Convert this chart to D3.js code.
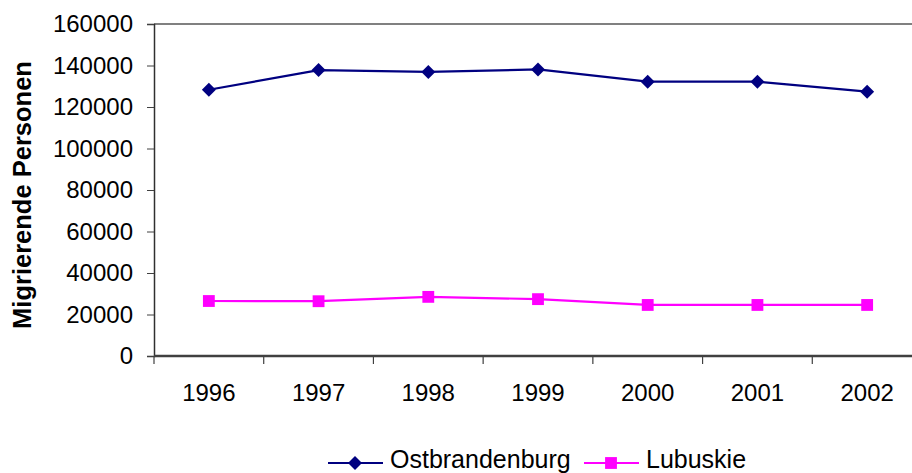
<!DOCTYPE html>
<html>
<head>
<meta charset="utf-8">
<script src="https://cdnjs.cloudflare.com/ajax/libs/d3/7.8.5/d3.min.js"></script>
<style>
  body { margin: 0; background: #fff; }
  text { font-family: "Liberation Sans", Arial, sans-serif; fill: #000; }
</style>
</head>
<body>
<div id="chart"></div>
<script>
// chart data
var years = ['1996', '1997', '1998', '1999', '2000', '2001', '2002'];
var ostbrandenburg = [128300, 137800, 136900, 138100, 132200, 132200, 127400];
var lubuskie = [26500, 26400, 28500, 27400, 24600, 24600, 24600];
var yTicks = [0, 20000, 40000, 60000, 80000, 100000, 120000, 140000, 160000];
var seriesNames = ['Ostbrandenburg', 'Lubuskie'];

var svgWidth = 912;
var svgHeight = 473;

// plot area runs a little past the right edge like in the original
var margin = { top: 24, left: 154 };
var width = 768;
var height = 332;

var svg = d3.select('#chart')
  .append('svg')
  .attr('width', svgWidth)
  .attr('height', svgHeight);

var chartGroup = svg.append('g')
  .attr('transform', `translate(${margin.left}, ${margin.top})`);

var xBand = d3.scaleBand()
  .domain(years)
  .range([0, width]);

var yLinearScale = d3.scaleLinear()
  .domain([0, 160000])
  .range([height, 0]);

// top border of plot area
chartGroup.append('line')
  .attr('x1', 0)
  .attr('x2', width)
  .attr('y1', 0)
  .attr('y2', 0)
  .attr('stroke', '#808080')
  .attr('stroke-width', 2);

// y axis
var leftAxis = d3.axisLeft(yLinearScale)
  .tickValues(yTicks)
  .tickSize(7)
  .tickPadding(14)
  .tickFormat(d3.format('d'));

var yAxis = chartGroup.append('g')
  .call(leftAxis);

yAxis.select('.domain')
  .attr('stroke', '#303030')
  .attr('stroke-width', 1.5);

yAxis.selectAll('.tick line')
  .attr('stroke', '#404040');

yAxis.selectAll('.tick text')
  .attr('font-size', '24px')
  .attr('font-family', '"Liberation Sans", Arial, sans-serif');

// x axis: ticks on the band edges, labels in the middle
var xAxis = chartGroup.append('g')
  .attr('transform', `translate(0, ${height})`);

xAxis.append('line')
  .attr('x1', 0)
  .attr('x2', width)
  .attr('stroke', '#404040')
  .attr('stroke-width', 2.5);

xAxis.selectAll('.xtick')
  .data(years)
  .enter()
  .append('line')
  .attr('x1', d => xBand(d))
  .attr('x2', d => xBand(d))
  .attr('y1', 0)
  .attr('y2', 8)
  .attr('stroke', '#404040')
  .attr('stroke-width', 1.2);

xAxis.selectAll('.xlabel')
  .data(years)
  .enter()
  .append('text')
  .attr('x', d => xBand(d) + xBand.bandwidth() / 2)
  .attr('y', 45)
  .attr('text-anchor', 'middle')
  .attr('font-size', '24px')
  .text(d => d);

// y axis title
svg.append('text')
  .attr('transform', 'translate(31, 195) rotate(-90)')
  .attr('text-anchor', 'middle')
  .attr('font-size', '25.5px')
  .attr('font-weight', 'bold')
  .text('Migrierende Personen');

var cx = i => xBand(years[i]) + xBand.bandwidth() / 2;

var line = d3.line()
  .x((d, i) => cx(i))
  .y(d => yLinearScale(d));

// diamond = square turned 45 degrees
var diamond = d3.symbol().type(d3.symbolSquare).size(98);
var square = d3.symbol().type(d3.symbolSquare).size(140);

// Ostbrandenburg series
chartGroup.append('path')
  .datum(ostbrandenburg)
  .attr('d', line)
  .attr('fill', 'none')
  .attr('stroke', '#000080')
  .attr('stroke-width', 2.2);

chartGroup.selectAll('.ost')
  .data(ostbrandenburg)
  .enter()
  .append('path')
  .attr('d', diamond)
  .attr('transform', (d, i) => `translate(${cx(i)}, ${yLinearScale(d)}) rotate(45)`)
  .attr('fill', '#000080');

// Lubuskie series
chartGroup.append('path')
  .datum(lubuskie)
  .attr('d', line)
  .attr('fill', 'none')
  .attr('stroke', '#FF00FF')
  .attr('stroke-width', 2.2);

chartGroup.selectAll('.lub')
  .data(lubuskie)
  .enter()
  .append('path')
  .attr('d', square)
  .attr('transform', (d, i) => `translate(${cx(i)}, ${yLinearScale(d)})`)
  .attr('fill', '#FF00FF');

// legend
var legendItems = [
  { name: seriesNames[0], color: '#000080', symbol: diamond, x: 328, rot: 45 },
  { name: seriesNames[1], color: '#FF00FF', symbol: square, x: 584, rot: 0 }
];

var legend = svg.selectAll('.legend')
  .data(legendItems)
  .enter()
  .append('g')
  .attr('transform', d => `translate(${d.x}, 463)`);

legend.append('line')
  .attr('x1', 0)
  .attr('x2', 55)
  .attr('stroke', d => d.color)
  .attr('stroke-width', 2.2);

legend.append('path')
  .attr('d', d => d.symbol())
  .attr('transform', d => `translate(27, 0) rotate(${d.rot})`)
  .attr('fill', d => d.color);

legend.append('text')
  .attr('x', 62)
  .attr('y', 4.5)
  .attr('font-size', '25px')
  .text(d => d.name);
</script>
</body>
</html>
